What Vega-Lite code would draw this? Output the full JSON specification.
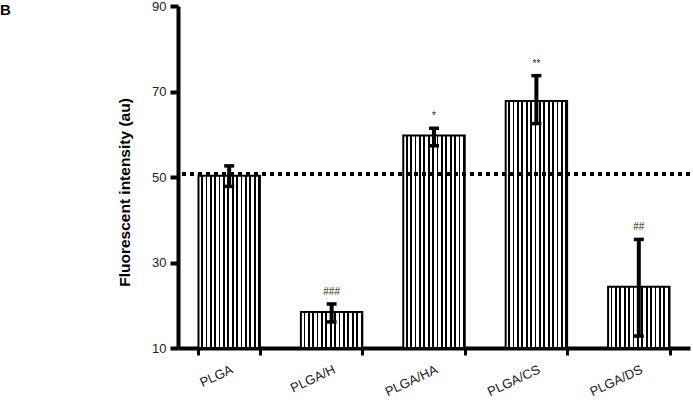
{
  "$schema": "https://vega.github.io/schema/vega-lite/v6.json",
  "width": 512,
  "height": 342,
  "autosize": {"type": "none"},
  "padding": {"left": 178, "top": 6, "right": 3, "bottom": 54},
  "title": {"text": "B", "anchor": "start", "frame": "group", "orient": "top", "dx": -178, "dy": 18, "fontSize": 15, "fontWeight": "bold", "font": "Liberation Sans", "color": "#000", "baseline": "top", "offset": 0},
  "config": {
    "view": {"stroke": null},
    "font": "Liberation Sans",
    "axis": {"grid": false, "domainColor": "#000", "tickColor": "#000", "labelColor": "#222", "labelFont": "Liberation Sans", "titleFont": "Liberation Sans"}
  },
  "data": {"values": [
    {"group": "PLGA", "value": 50.3, "lower": 47.8, "upper": 52.6, "sig": ""},
    {"group": "PLGA/H", "value": 18.4, "lower": 16.1, "upper": 20.3, "sig": "###"},
    {"group": "PLGA/HA", "value": 59.7, "lower": 57.3, "upper": 61.4, "sig": "*"},
    {"group": "PLGA/CS", "value": 67.8, "lower": 62.5, "upper": 73.7, "sig": "**"},
    {"group": "PLGA/DS", "value": 24.3, "lower": 12.8, "upper": 35.4, "sig": "##"}
  ]},
  "encoding": {
    "x": {"field": "group", "type": "nominal", "sort": null,
      "scale": {"paddingInner": 0.4, "paddingOuter": 0.2},
      "axis": {"title": null, "labelAngle": -25, "labelAlign": "right", "labelBaseline": "top", "labelFontSize": 13, "labelPadding": 8, "labelDx": 14, "domainWidth": 4, "tickWidth": 3, "tickSize": 7, "tickBand": "extent"}}
  },
  "layer": [
    {
      "mark": {"type": "bar", "stroke": "#000", "strokeWidth": 2,
        "fill": {"gradient": "linear", "x1": 0, "y1": 0, "x2": 1, "y2": 0, "stops": [
          {"offset": 0, "color": "#fff"}, {"offset": 0.0429, "color": "#fff"}, {"offset": 0.0429, "color": "#000"}, {"offset": 0.0714, "color": "#000"},
          {"offset": 0.0714, "color": "#fff"}, {"offset": 0.1143, "color": "#fff"}, {"offset": 0.1143, "color": "#000"}, {"offset": 0.1429, "color": "#000"},
          {"offset": 0.1429, "color": "#fff"}, {"offset": 0.1857, "color": "#fff"}, {"offset": 0.1857, "color": "#000"}, {"offset": 0.2143, "color": "#000"},
          {"offset": 0.2143, "color": "#fff"}, {"offset": 0.2571, "color": "#fff"}, {"offset": 0.2571, "color": "#000"}, {"offset": 0.2857, "color": "#000"},
          {"offset": 0.2857, "color": "#fff"}, {"offset": 0.3286, "color": "#fff"}, {"offset": 0.3286, "color": "#000"}, {"offset": 0.3571, "color": "#000"},
          {"offset": 0.3571, "color": "#fff"}, {"offset": 0.4, "color": "#fff"}, {"offset": 0.4, "color": "#000"}, {"offset": 0.4286, "color": "#000"},
          {"offset": 0.4286, "color": "#fff"}, {"offset": 0.4714, "color": "#fff"}, {"offset": 0.4714, "color": "#000"}, {"offset": 0.5, "color": "#000"},
          {"offset": 0.5, "color": "#fff"}, {"offset": 0.5429, "color": "#fff"}, {"offset": 0.5429, "color": "#000"}, {"offset": 0.5714, "color": "#000"},
          {"offset": 0.5714, "color": "#fff"}, {"offset": 0.6143, "color": "#fff"}, {"offset": 0.6143, "color": "#000"}, {"offset": 0.6429, "color": "#000"},
          {"offset": 0.6429, "color": "#fff"}, {"offset": 0.6857, "color": "#fff"}, {"offset": 0.6857, "color": "#000"}, {"offset": 0.7143, "color": "#000"},
          {"offset": 0.7143, "color": "#fff"}, {"offset": 0.7571, "color": "#fff"}, {"offset": 0.7571, "color": "#000"}, {"offset": 0.7857, "color": "#000"},
          {"offset": 0.7857, "color": "#fff"}, {"offset": 0.8286, "color": "#fff"}, {"offset": 0.8286, "color": "#000"}, {"offset": 0.8571, "color": "#000"},
          {"offset": 0.8571, "color": "#fff"}, {"offset": 0.9, "color": "#fff"}, {"offset": 0.9, "color": "#000"}, {"offset": 0.9286, "color": "#000"},
          {"offset": 0.9286, "color": "#fff"}, {"offset": 0.9714, "color": "#fff"}, {"offset": 0.9714, "color": "#000"}, {"offset": 1, "color": "#000"}
        ]}},
      "encoding": {
        "y": {"field": "value", "type": "quantitative",
          "scale": {"domain": [10, 90], "nice": false, "zero": false},
          "axis": {"title": "Fluorescent intensity (au)", "titleFontSize": 15.5, "titleFontWeight": "bold", "titleColor": "#000", "titlePadding": 19, "titleY": 186,
            "values": [10, 30, 50, 70, 90], "labelFontSize": 13, "labelPadding": 4, "tickSize": 8, "tickWidth": 4, "domainWidth": 4}},
        "y2": {"datum": 10}
      }
    },
    {
      "mark": {"type": "rule", "strokeDash": [4, 4], "strokeWidth": 3.5, "color": "#000"},
      "encoding": {"x": null, "y": {"datum": 50.7, "type": "quantitative"}}
    },
    {
      "mark": {"type": "rule", "strokeWidth": 4, "color": "#000"},
      "encoding": {"y": {"field": "lower", "type": "quantitative"}, "y2": {"field": "upper"}}
    },
    {
      "mark": {"type": "tick", "thickness": 3.5, "size": 10, "color": "#000", "opacity": 1},
      "encoding": {"y": {"field": "upper", "type": "quantitative"}}
    },
    {
      "mark": {"type": "tick", "thickness": 3.5, "size": 10, "color": "#000", "opacity": 1},
      "encoding": {"y": {"field": "lower", "type": "quantitative"}}
    },
    {
      "mark": {"type": "text", "fontSize": 10, "color": "#222", "baseline": "alphabetic", "dy": -9},
      "encoding": {"y": {"field": "upper", "type": "quantitative"}, "text": {"field": "sig"}}
    }
  ]
}
